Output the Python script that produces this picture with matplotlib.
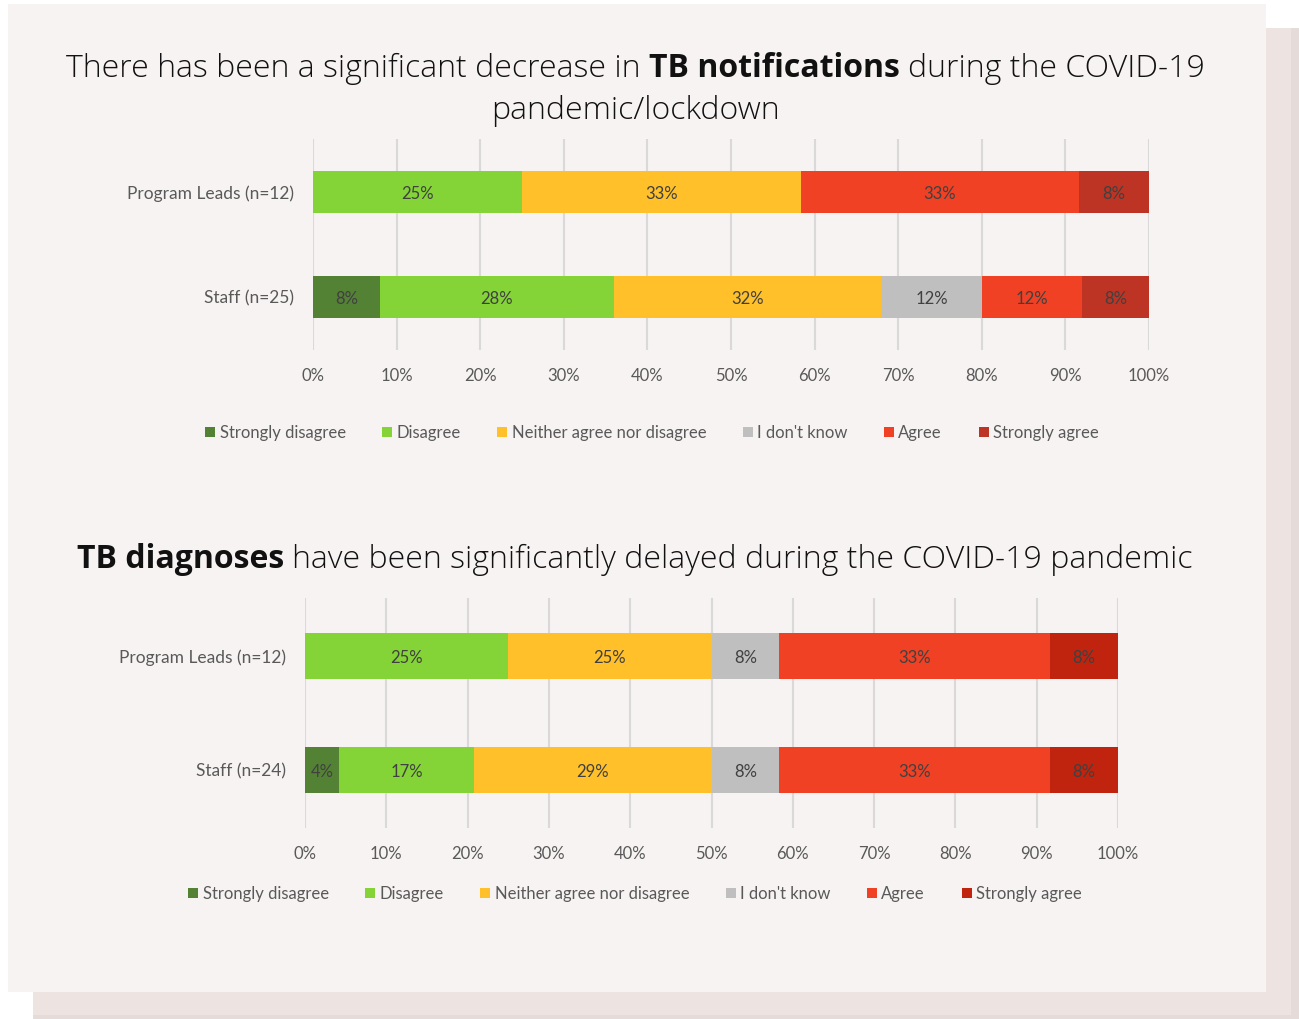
import matplotlib
matplotlib.use("Agg")
import matplotlib.pyplot as plt
from matplotlib.patches import Rectangle, Patch
import numpy as np

# ---------------- data ----------------
categories = ["Strongly disagree", "Disagree", "Neither agree nor disagree",
              "I don't know", "Agree", "Strongly agree"]

groups_top = ["Program Leads (n=12)", "Staff (n=25)"]
n_top = [12, 25]
counts_top_leads = [0, 3, 4, 0, 4, 1]
counts_top_staff = [2, 7, 8, 3, 3, 2]

groups_bottom = ["Program Leads (n=12)", "Staff (n=24)"]
n_bottom = [12, 24]
counts_bottom_leads = [0, 3, 3, 1, 4, 1]
counts_bottom_staff = [1, 4, 7, 2, 8, 2]

xtick_values = [0, 10, 20, 30, 40, 50, 60, 70, 80, 90, 100]
xtick_labels = ["0%", "10%", "20%", "30%", "40%", "50%", "60%", "70%", "80%", "90%", "100%"]

colors_top = ["#548235", "#84d437", "#ffc02a", "#bfbfbf", "#f04124", "#be3424"]
colors_bottom = ["#548235", "#84d437", "#ffc02a", "#bfbfbf", "#f04124", "#c0240f"]

# ---------------- figure ----------------
W, H = 1299, 1019
fig = plt.figure(figsize=(W / 100, H / 100), dpi=100)
fig.patch.set_facecolor("white")


def px_rect(x0, y0, x1, y1, color, z):
    fig.patches.append(Rectangle((x0 / W, 1 - y1 / H), (x1 - x0) / W, (y1 - y0) / H,
                                 transform=fig.transFigure, facecolor=color,
                                 edgecolor="none", zorder=z))


# shadow card and main card
px_rect(33, 28, 1299, 1019, "#e5dbd9", -10)
px_rect(33, 28, 1291, 1015, "#ede4e2", -9)
px_rect(8, 4, 1266, 992, "#f7f3f2", -8)

TITLE_FONT = "Open Sans"
CHART_FONT = "Lato"


def rich_line(parts, cx_px, base_px, fs=23):
    r = fig.canvas.get_renderer()
    texts = []
    for s, w in parts:
        t = fig.text(0, 1 - base_px / H, s, fontsize=fs, fontfamily=TITLE_FONT,
                     fontweight=w, color="#111111", va="baseline", ha="left")
        texts.append(t)
    # space width
    t1 = fig.text(0, 0, "x x", fontsize=fs, fontfamily=TITLE_FONT, fontweight="light")
    t2 = fig.text(0, 0, "xx", fontsize=fs, fontfamily=TITLE_FONT, fontweight="light")
    sp = t1.get_window_extent(r).width - t2.get_window_extent(r).width
    t1.remove(); t2.remove()
    widths = [t.get_window_extent(r).width for t in texts]
    total = sum(widths) + sp * (len(texts) - 1)
    x = cx_px - total / 2
    for t, w in zip(texts, widths):
        t.set_x(x / W)
        x += w + sp


rich_line([("There has been a significant decrease in", "light"),
           ("TB notifications", "bold"),
           ("during the COVID-19", "light")], 635.5, 77)
rich_line([("pandemic/lockdown", "light")], 635.5, 119)
rich_line([("TB diagnoses", "bold"),
           ("have been significantly delayed during the COVID-19 pandemic", "light")], 635, 568)


def draw_chart(left, right, top, bottom, c_first, c_second, groups, ns, counts, colors,
               legend_cx, legend_cy):
    ax = fig.add_axes([left / W, 1 - bottom / H, (right - left) / W, (bottom - top) / H])
    ax.set_facecolor("none")
    spacing = c_second - c_first
    ax.set_xlim(0, 100)
    ax.set_ylim(1 + (bottom - c_second) / spacing, -(c_first - top) / spacing)
    ypos = np.arange(len(groups))
    lefts = np.zeros(len(groups))
    handles = []
    for k, cat in enumerate(categories):
        vals = np.array([counts[g][k] / ns[g] * 100 for g in range(len(groups))])
        ax.barh(ypos, vals, left=lefts, height=0.4, color=colors[k],
                edgecolor="none", zorder=3)
        for g in range(len(groups)):
            if vals[g] > 0:
                ax.text(lefts[g] + vals[g] / 2, ypos[g] + 0.015, f"{vals[g]:.0f}%",
                        ha="center", va="center", fontsize=12,
                        fontfamily=CHART_FONT, color="#404040", zorder=4)
        lefts += vals
        handles.append(Patch(facecolor=colors[k], edgecolor="none", label=cat))
    ax.set_xticks(xtick_values)
    ax.set_xticklabels(xtick_labels, fontsize=12, fontfamily=CHART_FONT, color="#595959")
    ax.set_yticks(ypos)
    ax.set_yticklabels(groups, fontsize=12.5, fontfamily=CHART_FONT, color="#595959")
    ax.tick_params(axis="both", length=0)
    ax.tick_params(axis="x", pad=13.2)
    ax.tick_params(axis="y", pad=14)
    ax.grid(axis="x", color="#d9d9d9", linewidth=1.5, zorder=0)
    ax.grid(axis="y", visible=False)
    for s in ax.spines.values():
        s.set_visible(False)
    leg = fig.legend(handles=handles, loc="center", ncol=6,
                     bbox_to_anchor=(legend_cx / W, 1 - legend_cy / H),
                     frameon=False, handlelength=0.6, handleheight=0.6,
                     handletextpad=0.25, columnspacing=2.2,
                     prop={"family": CHART_FONT, "size": 12})
    for t in leg.get_texts():
        t.set_color("#595959")
    return ax


draw_chart(313, 1149, 139, 350, 192, 297, groups_top, n_top,
           [counts_top_leads, counts_top_staff], colors_top, 652, 433)
draw_chart(305, 1118, 598, 828, 656, 770, groups_bottom, n_bottom,
           [counts_bottom_leads, counts_bottom_staff], colors_bottom, 635, 894)

fig.savefig("out.png", dpi=100, facecolor=fig.get_facecolor())
